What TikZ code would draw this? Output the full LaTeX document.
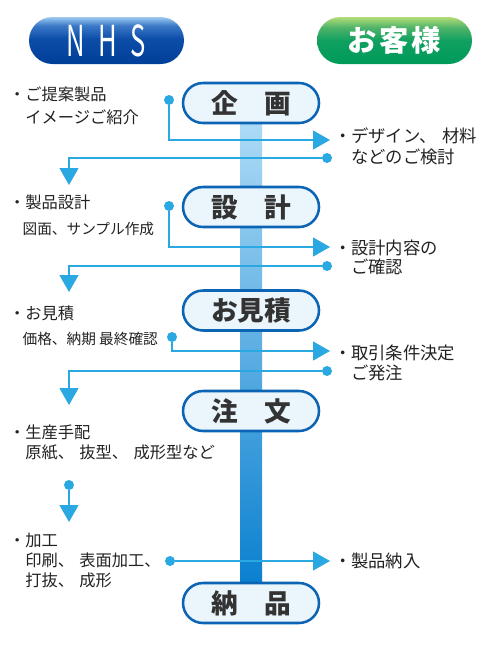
\documentclass[tikz,border=0pt]{standalone}
\usepackage{fontspec}
\setmainfont{Noto Sans CJK JP}
\newfontfamily\nhsfont{Noto Sans CJK JP}[FakeStretch=0.6]
\usetikzlibrary{arrows.meta,shapes.misc}
\definecolor{linec}{HTML}{2AA8E2}
\definecolor{textc}{HTML}{222222}
\definecolor{pilltext}{HTML}{333333}
\definecolor{pillfill}{HTML}{EAF5FC}
\definecolor{pillborder}{HTML}{0B64B4}
\definecolor{barT}{HTML}{ADDBF6}
\definecolor{barB}{HTML}{0A80CF}
\definecolor{nhsD}{HTML}{003F98}
\definecolor{nhsM}{HTML}{0C4DA8}
\definecolor{nhsL}{HTML}{3C7AC8}
\definecolor{nhsT}{HTML}{9CCAF0}
\definecolor{grD}{HTML}{009A5A}
\definecolor{grM}{HTML}{10A060}
\definecolor{grL}{HTML}{50B468}
\definecolor{grT}{HTML}{B4DC78}
\pgfdeclareverticalshading{nhsshade}{100bp}{color(0bp)=(nhsD); color(25bp)=(nhsD); color(52bp)=(nhsM); color(66bp)=(nhsL); color(75bp)=(nhsT); color(100bp)=(nhsT)}
\pgfdeclareverticalshading{grshade}{100bp}{color(0bp)=(grD); color(25bp)=(grD); color(50bp)=(grM); color(64bp)=(grL); color(75bp)=(grT); color(100bp)=(grT)}
\tikzset{
  hdr/.style={rounded rectangle, minimum width={155*0.75pt}, minimum height={47*0.75pt}, inner sep=0pt, text=white},
  pill/.style={rounded rectangle, draw=pillborder, line width=1.9pt, fill=pillfill, minimum width={136*0.75pt}, minimum height={40*0.75pt}, inner sep=0pt, text=pilltext, font=\bfseries\fontsize{20pt}{24pt}\selectfont},
  txt/.style={anchor=west, align=left, inner sep=0pt, text=textc, font=\fontsize{12.2pt}{15pt}\selectfont},
  rtxt/.style={txt, font=\fontsize{13pt}{15pt}\selectfont},
  dot/.style={circle, fill=linec, inner sep=0pt, minimum size=7.5pt},
  conn/.style={draw=linec, line width=1pt, -{Triangle[width=14.25pt, length=12.75pt]}}
}
\newcommand{\bl}{\makebox[12pt][c]{・}}
\newcommand{\tk}{、\hspace{4pt}}
\newcommand{\smallline}{\fontsize{11pt}{15pt}\selectfont}
\begin{document}
\begin{tikzpicture}[x=0.75pt,y=-0.75pt]
\useasboundingbox (0,0) rectangle (501,661);
% header pills
\node[hdr, shade, shading=nhsshade] (nhs) at (106.5,40.5) {\nhsfont\fontsize{32pt}{34pt}\selectfont N\hspace{10pt}H\hspace{10pt}S};
\node[hdr, shade, shading=grshade] (kyaku) at (394.5,40.5) {\bfseries\fontsize{22pt}{26pt}\selectfont お\hspace{2pt}客\hspace{2pt}様};
% central bar
\shade[top color=barT, bottom color=barB] (240,120) rectangle (262,586);
% section 1
\node[dot] (d1) at (169,100) {};
\coordinate (t1) at (330,140);
\draw[conn] (d1) |- (t1);
\node[dot] (e1) at (327,158) {};
\coordinate (u1) at (69,185);
\draw[conn] (e1) -| (u1);
% section 2
\node[dot] (d2) at (169,206) {};
\coordinate (t2) at (330,247);
\draw[conn] (d2) |- (t2);
\node[dot] (e2) at (327,266) {};
\coordinate (u2) at (69,292);
\draw[conn] (e2) -| (u2);
% section 3
\node[dot] (d3) at (172,337) {};
\coordinate (t3) at (330,351);
\draw[conn] (d3) |- (t3);
\node[dot] (e3) at (327,371) {};
\coordinate (u3) at (69,405);
\draw[conn] (e3) -| (u3);
% section 4
\node[dot] (d4) at (69,485) {};
\coordinate (u4) at (69,522);
\draw[conn] (d4) -- (u4);
% section 5
\node[dot] (d5) at (170,561) {};
\coordinate (t5) at (330,561);
\draw[conn] (d5) -- (t5);
% step pills
\node[pill] (p1) at (251,103) {企　画};
\node[pill] (p2) at (251,207) {設　計};
\node[pill] (p3) at (251,310.5) {お見積};
\node[pill] (p4) at (251,411) {注　文};
\node[pill] (p5) at (251,603) {納　品};
% left texts
\node[txt] (l1) at (9,105.5) {\bl ご提案製品\\[2.25pt]\hspace*{12pt}イメージご紹介};
\node[txt] (l2) at (9,215) {\bl 製品設計\\[4.5pt]\hspace*{10pt}\smallline 図面、サンプル作成};
\node[txt] (l3) at (9,325.5) {\bl お見積\\[3.75pt]\hspace*{10pt}\smallline 価格、納期 最終確認};
\node[txt] (l4) at (9,442) {\bl 生産手配\\\hspace*{12pt}原紙\tk 抜型\tk 成形型など};
\node[txt] (l5) at (9,560) {\bl 加工\\\hspace*{12pt}印刷\tk 表面加工、\\\hspace*{12pt}打抜\tk 成形};
% right texts
\node[rtxt] (r1) at (335,146.5) {\bl デザイン\tk 材料\\[0.75pt]\hspace*{12pt}などのご検討};
\node[rtxt] (r2) at (335,257.5) {\bl 設計内容の\\[-0.75pt]\hspace*{12pt}ご確認};
\node[rtxt] (r3) at (335,363) {\bl 取引条件決定\\\hspace*{12pt}ご発注};
\node[rtxt] (r5) at (335,561) {\bl 製品納入};
\end{tikzpicture}
\end{document}
